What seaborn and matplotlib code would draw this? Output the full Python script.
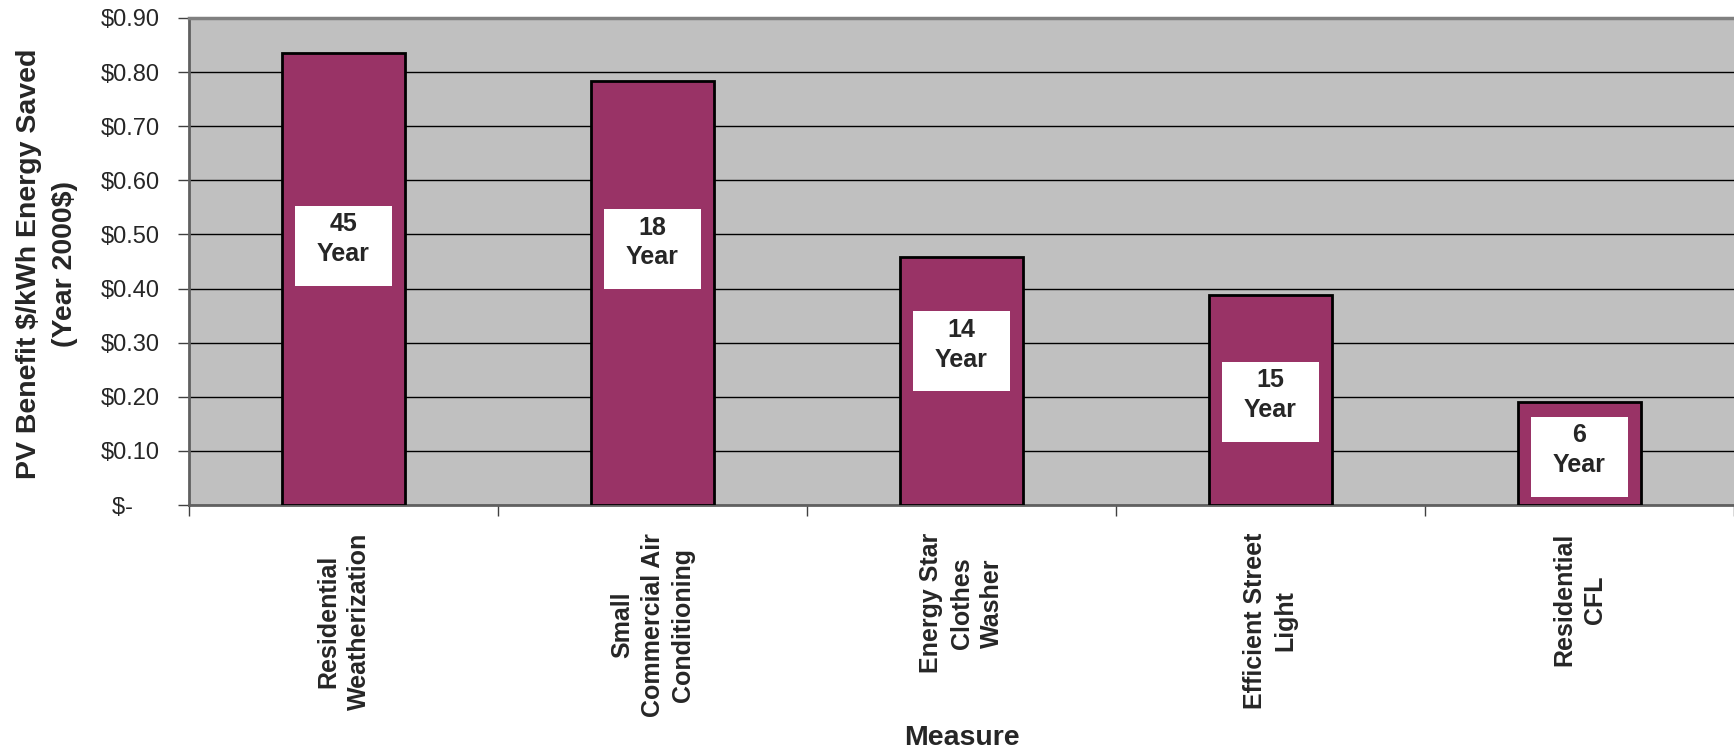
import matplotlib
matplotlib.use("Agg")
import matplotlib.pyplot as plt
import seaborn as sns
import pandas as pd
from matplotlib.patches import Rectangle
from matplotlib.ticker import FuncFormatter

measures = ["Residential\nWeatherization", "Small\nCommercial Air\nConditioning",
            "Energy Star\nClothes\nWasher", "Efficient Street\nLight", "Residential\nCFL"]
benefit = [0.836, 0.783, 0.459, 0.388, 0.191]
lifetime = [45, 18, 14, 15, 6]
label_y = [0.479, 0.473, 0.284, 0.191, 0.089]
yticks = [0.0, 0.1, 0.2, 0.3, 0.4, 0.5, 0.6, 0.7, 0.8, 0.9]

df = pd.DataFrame({"Measure": measures, "Benefit": benefit})

sns.set_style("white")
plt.rcParams["font.family"] = ["Liberation Sans", "DejaVu Sans"]

fig = plt.figure(figsize=(17.34, 7.52), dpi=100)
ax = fig.add_axes([189 / 1734, 1 - 505 / 752, 1 - 189 / 1734, (505 - 18) / 752])
ax.set_facecolor("#C0C0C0")

sns.barplot(data=df, x="Measure", y="Benefit", color="#993366", width=0.4,
            edgecolor="black", linewidth=2, saturation=1, ax=ax, zorder=3)

ax.set_xlim(-0.5, len(measures) - 0.5)
ax.set_ylim(0, 0.9)
ax.set_yticks(yticks)
ax.yaxis.set_major_formatter(FuncFormatter(lambda v, p: "$-    " if abs(v) < 1e-9 else f"${v:.2f}"))
ax.grid(axis="y", color="black", linewidth=1)
ax.set_axisbelow(True)

for i, (lt, ly) in enumerate(zip(lifetime, label_y)):
    ax.add_patch(Rectangle((i - 0.157, ly - 0.074), 0.314, 0.148,
                           facecolor="white", edgecolor="none", zorder=4))
    ax.text(i, ly + 0.012, f"{lt}\nYear", ha="center", va="center", fontsize=18,
            fontweight="bold", linespacing=1.3, zorder=5)

ax.tick_params(axis="y", length=8, width=1, color="#404040", pad=13, labelsize=17, left=True)
ax.set_xticks(range(len(measures)))
ax.set_xticklabels(measures, rotation=90, fontsize=18, fontweight="bold",
                   va="top", ha="center", multialignment="center", linespacing=1.35)
ax.tick_params(axis="x", which="major", length=0, pad=20)
ax.set_xticks([i - 0.5 for i in range(len(measures) + 1)], minor=True)
ax.tick_params(axis="x", which="minor", length=8, width=1, color="#404040", bottom=True)

for s in ["top", "left", "bottom"]:
    ax.spines[s].set_visible(True)
ax.spines["top"].set_color("#808080")
ax.spines["top"].set_linewidth(2.5)
ax.spines["left"].set_color("#606060")
ax.spines["left"].set_linewidth(2)
ax.spines["bottom"].set_color("#606060")
ax.spines["bottom"].set_linewidth(2)
ax.spines["right"].set_visible(False)

ax.set_ylabel("PV Benefit $/kWh Energy Saved\n(Year 2000$)", fontsize=20.5,
              fontweight="bold", linespacing=1.5)
ax.yaxis.set_label_coords((47 - 189) / 1545, 0.495)
ax.yaxis.label.set_va("center")
ax.set_xlabel("Measure", fontsize=20.5, fontweight="bold")
ax.xaxis.set_label_coords(0.5, (505 - 738) / 487)
ax.xaxis.label.set_va("center")

fig.savefig("out.png", dpi=100)
